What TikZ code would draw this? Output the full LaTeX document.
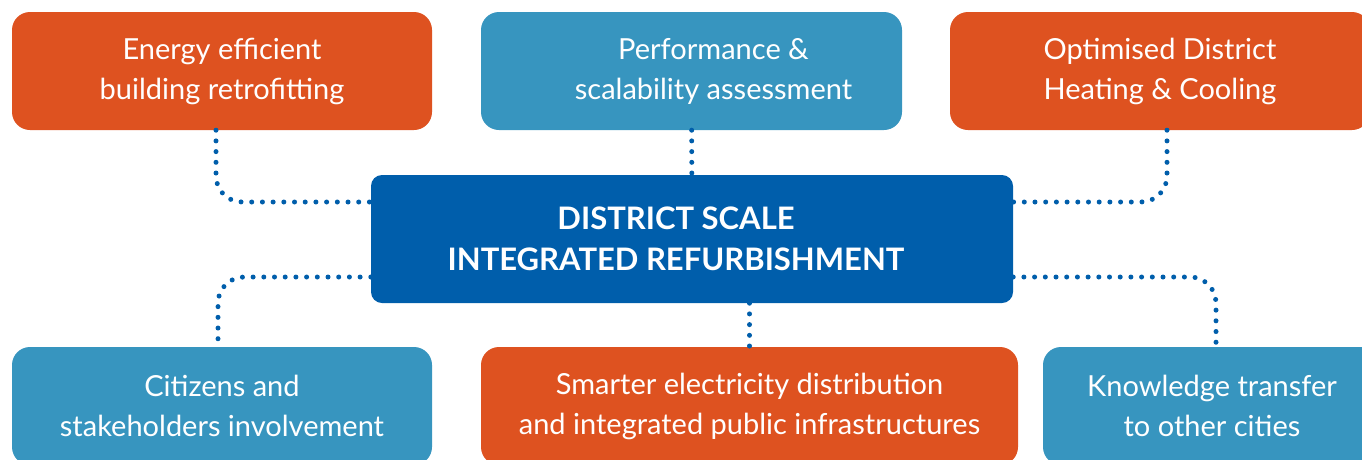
\documentclass[tikz,border=0pt]{standalone}
\usepackage{fontspec}
\setmainfont{Lato}
\usetikzlibrary{positioning}
\definecolor{orng}{HTML}{DE5220}
\definecolor{lblue}{HTML}{3795BF}
\definecolor{dblue}{HTML}{005EAB}
\begin{document}
\begin{tikzpicture} [x=1pt, y=-1pt, box/.style={rounded corners=18pt, minimum height=118pt, text=white, align=center, font=\fontsize{29}{40}\selectfont}, hubbox/.style={box, fill=dblue, rounded corners=11pt, minimum width=642pt, minimum height=128pt}, hubtext/.style={text=white, align=center, font=\fontsize{31}{41}\selectfont\bfseries}, link/.style={draw=dblue, line width=5pt, line cap=round, dash pattern=on 0pt off 10.7pt, rounded corners=26pt}]
\useasboundingbox (0,0) rectangle (1362,459);
\node[box, fill=orng, minimum width=420pt] (el) at (222,71) {Energy efficient\\building retrofitting};
\node[box, fill=lblue, minimum width=421pt, label={[box, xshift=22pt]center:Performance \&\\scalability assessment}] (pa) at (691.5,71) {};
\node[box, fill=orng, minimum width=420pt] (dh) at (1160,71) {Optimised District\\Heating \& Cooling};
\node[hubbox, label={[hubtext, xshift=-16pt]center:DISTRICT SCALE\\INTEGRATED REFURBISHMENT}] (hub) at (692,239) {};
\node[box, fill=lblue, minimum width=420pt] (ci) at (222,406) {Citizens and\\stakeholders involvement};
\node[box, fill=orng, minimum width=537pt] (se) at (749.5,406) {Smarter electricity distribution\\and integrated public infrastructures};
\node[box, fill=lblue, minimum width=338pt] (kt) at (1212,406) {Knowledge transfer\\to other cities};
\path[link] ([xshift=-6pt]el.south) |- ([yshift=37pt]hub.west);
\path[link] (pa) -- (hub);
\path[link] ([xshift=7pt]dh.south) |- ([yshift=37pt]hub.east);
\path[link] ([yshift=-38pt]hub.west) -| ([xshift=-4pt]ci.north);
\path[link] (hub.south -| se) -- (se);
\path[link] ([yshift=-38pt]hub.east) -| ([xshift=4pt]kt.north);
\end{tikzpicture}
\end{document}
